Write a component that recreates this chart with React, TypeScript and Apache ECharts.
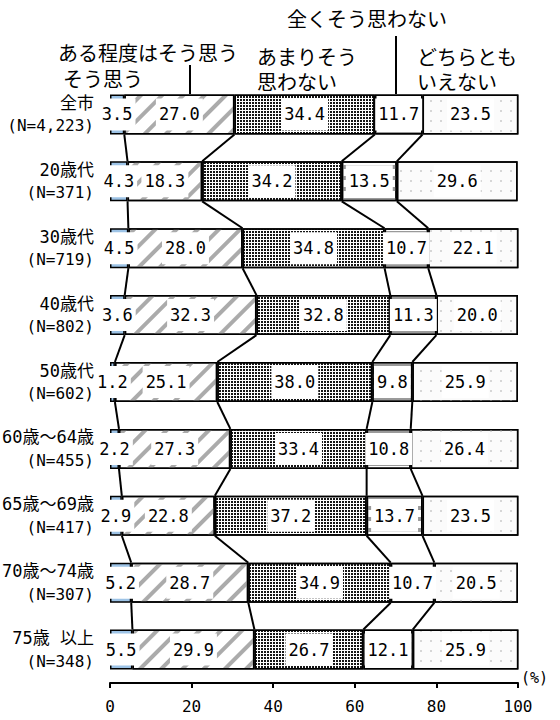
import React, { useEffect, useRef } from "react";
import * as echarts from "echarts";

const categories = ["全市", "20歳代", "30歳代", "40歳代", "50歳代", "60歳～64歳", "65歳～69歳", "70歳～74歳", "75歳 以上"];
const sampleSizes = ["4,223", "371", "719", "802", "602", "455", "417", "307", "348"];
const seriesNames = ["そう思う", "ある程度はそう思う", "あまりそう思わない", "全くそう思わない", "どちらともいえない"];
const soOmou = [3.5, 4.3, 4.5, 3.6, 1.2, 2.2, 2.9, 5.2, 5.5];
const aruteido = [27.0, 18.3, 28.0, 32.3, 25.1, 27.3, 22.8, 28.7, 29.9];
const amari = [34.4, 34.2, 34.8, 32.8, 38.0, 33.4, 37.2, 34.9, 26.7];
const mattaku = [11.7, 13.5, 10.7, 11.3, 9.8, 10.8, 13.7, 10.7, 12.1];
const dochira = [23.5, 29.6, 22.1, 20.0, 25.9, 26.4, 23.5, 20.5, 25.9];
const xMin = 0;
const xMax = 100;
const xInterval = 20;

const MONO = "'DejaVu Sans Mono', 'Noto Sans CJK JP', monospace";
const JP = "'Noto Sans CJK JP', sans-serif";
const BAR_W = 40;

export default function App() {
  const ref = useRef<HTMLDivElement>(null);
  useEffect(() => {
    if (!ref.current) return;
    const chart = echarts.init(ref.current, null, { renderer: "svg" });
    const values = [soOmou, aruteido, amari, mattaku, dochira];
    const cum: number[][] = categories.map((_, i) => {
      let s = 0;
      const out: number[] = [];
      for (let k = 0; k < 4; k++) {
        s += values[k][i];
        out.push(s);
      }
      return out;
    });
    const connData = [];
    for (let i = 0; i < categories.length - 1; i++) {
      connData.push([i, ...cum[i], ...cum[i + 1]]);
    }

    const styles: any[] = [
      { color: "#9dc3e6" },
      {
        color: "#ffffff",
        decal: { symbol: "rect", symbolSize: 1, color: "#ababab", dashArrayX: [1, 0], dashArrayY: [4, 11], rotation: -Math.PI / 4 },
      },
      {
        color: "#ffffff",
        decal: { symbol: "rect", symbolSize: 1, color: "#161616", dashArrayX: [2, 1], dashArrayY: [2, 1], rotation: 0 },
      },
      {
        color: "#ffffff",
        decal: { symbol: "rect", symbolSize: 1, color: "#9a9a9a", dashArrayX: [1, 0], dashArrayY: [4, 7], rotation: 0 },
      },
      {
        color: "#fbfbfb",
        decal: { symbol: "rect", symbolSize: 1, color: "#d6d6d6", dashArrayX: [2, 8], dashArrayY: [2, 8], rotation: 0 },
      },
    ];

    const barSeries = seriesNames.map((name, k) => ({
      name,
      type: "bar",
      stack: "total",
      barWidth: BAR_W,
      data: values[k],
      itemStyle: { ...styles[k], borderColor: "#000", borderWidth: 1.5 },
      label: {
        show: true,
        position: "inside",
        formatter: (p: any) => Number(p.value).toFixed(1),
        color: "#000",
        fontSize: 17,
        fontFamily: MONO,
        backgroundColor: "#ffffff",
        padding: [7, 3],
        lineHeight: 18,
      },
      emphasis: { disabled: true },
    }));

    const connector = {
      type: "custom",
      name: "connector",
      data: connData,
      encode: { x: [1, 2, 3, 4, 5, 6, 7, 8], y: 0 },
      clip: false,
      silent: true,
      renderItem: (params: any, api: any) => {
        const i = api.value(0);
        const half = BAR_W / 2;
        const children: any[] = [];
        for (let k = 0; k < 4; k++) {
          const a = api.coord([api.value(1 + k), i]);
          const b = api.coord([api.value(5 + k), i + 1]);
          children.push({
            type: "line",
            shape: { x1: a[0], y1: a[1] + half, x2: b[0], y2: b[1] - half },
            style: { stroke: "#000", lineWidth: 2 },
          });
        }
        return { type: "group", children };
      },
    };

    const textStyle = (text: string, x: number, y: number) => ({
      type: "text",
      style: { text, x, y, font: `20px ${JP}`, fill: "#000", verticalAlign: "middle", align: "left" },
    });

    const option: any = {
      animation: false,
      grid: { left: 110, right: 42, top: 81, bottom: 37, outerBoundsMode: "none", containLabel: false },
      xAxis: {
        type: "value",
        min: xMin,
        max: xMax,
        interval: xInterval,
        splitLine: { show: false },
        axisLine: { show: true, lineStyle: { color: "#000", width: 2 } },
        axisTick: { show: true, length: 5, lineStyle: { color: "#000", width: 2 } },
        axisLabel: { color: "#000", fontSize: 16, fontFamily: MONO, margin: 15 },
      },
      yAxis: {
        type: "category",
        inverse: true,
        data: categories,
        axisLine: { show: false },
        axisTick: { show: false },
        axisLabel: {
          margin: 16,
          align: "right",
          formatter: (value: string, index: number) => `{a|${value}}\n{b|(N=${sampleSizes[index]})}`,
          rich: {
            a: { fontSize: 17, fontFamily: MONO, color: "#000", lineHeight: 23, align: "right" },
            b: { fontSize: 16, fontFamily: MONO, color: "#000", lineHeight: 23, align: "right" },
          },
        },
      },
      series: [...barSeries, connector],
      graphic: [
        textStyle("全くそう思わない", 287, 18),
        { type: "line", shape: { x1: 396, y1: 36, x2: 396, y2: 94 }, style: { stroke: "#000", lineWidth: 2 } },
        textStyle("ある程度はそう思う", 58, 52),
        { type: "line", shape: { x1: 190, y1: 65, x2: 190, y2: 94 }, style: { stroke: "#000", lineWidth: 2 } },
        textStyle("そう思う", 63, 78.5),
        textStyle("あまりそう", 257, 56.5),
        textStyle("思わない", 257, 81.5),
        textStyle("どちらとも", 417, 56.5),
        textStyle("いえない", 417, 81.5),
        {
          type: "text",
          style: { text: "(%)", x: 521, y: 678, font: `15px ${MONO}`, fill: "#000", verticalAlign: "middle", align: "left" },
        },
      ],
    };
    chart.setOption(option);
    return () => chart.dispose();
  }, []);
  return <div ref={ref} style={{ position: "absolute", left: 0, top: 0, width: 560, height: 720 }} />;
}
